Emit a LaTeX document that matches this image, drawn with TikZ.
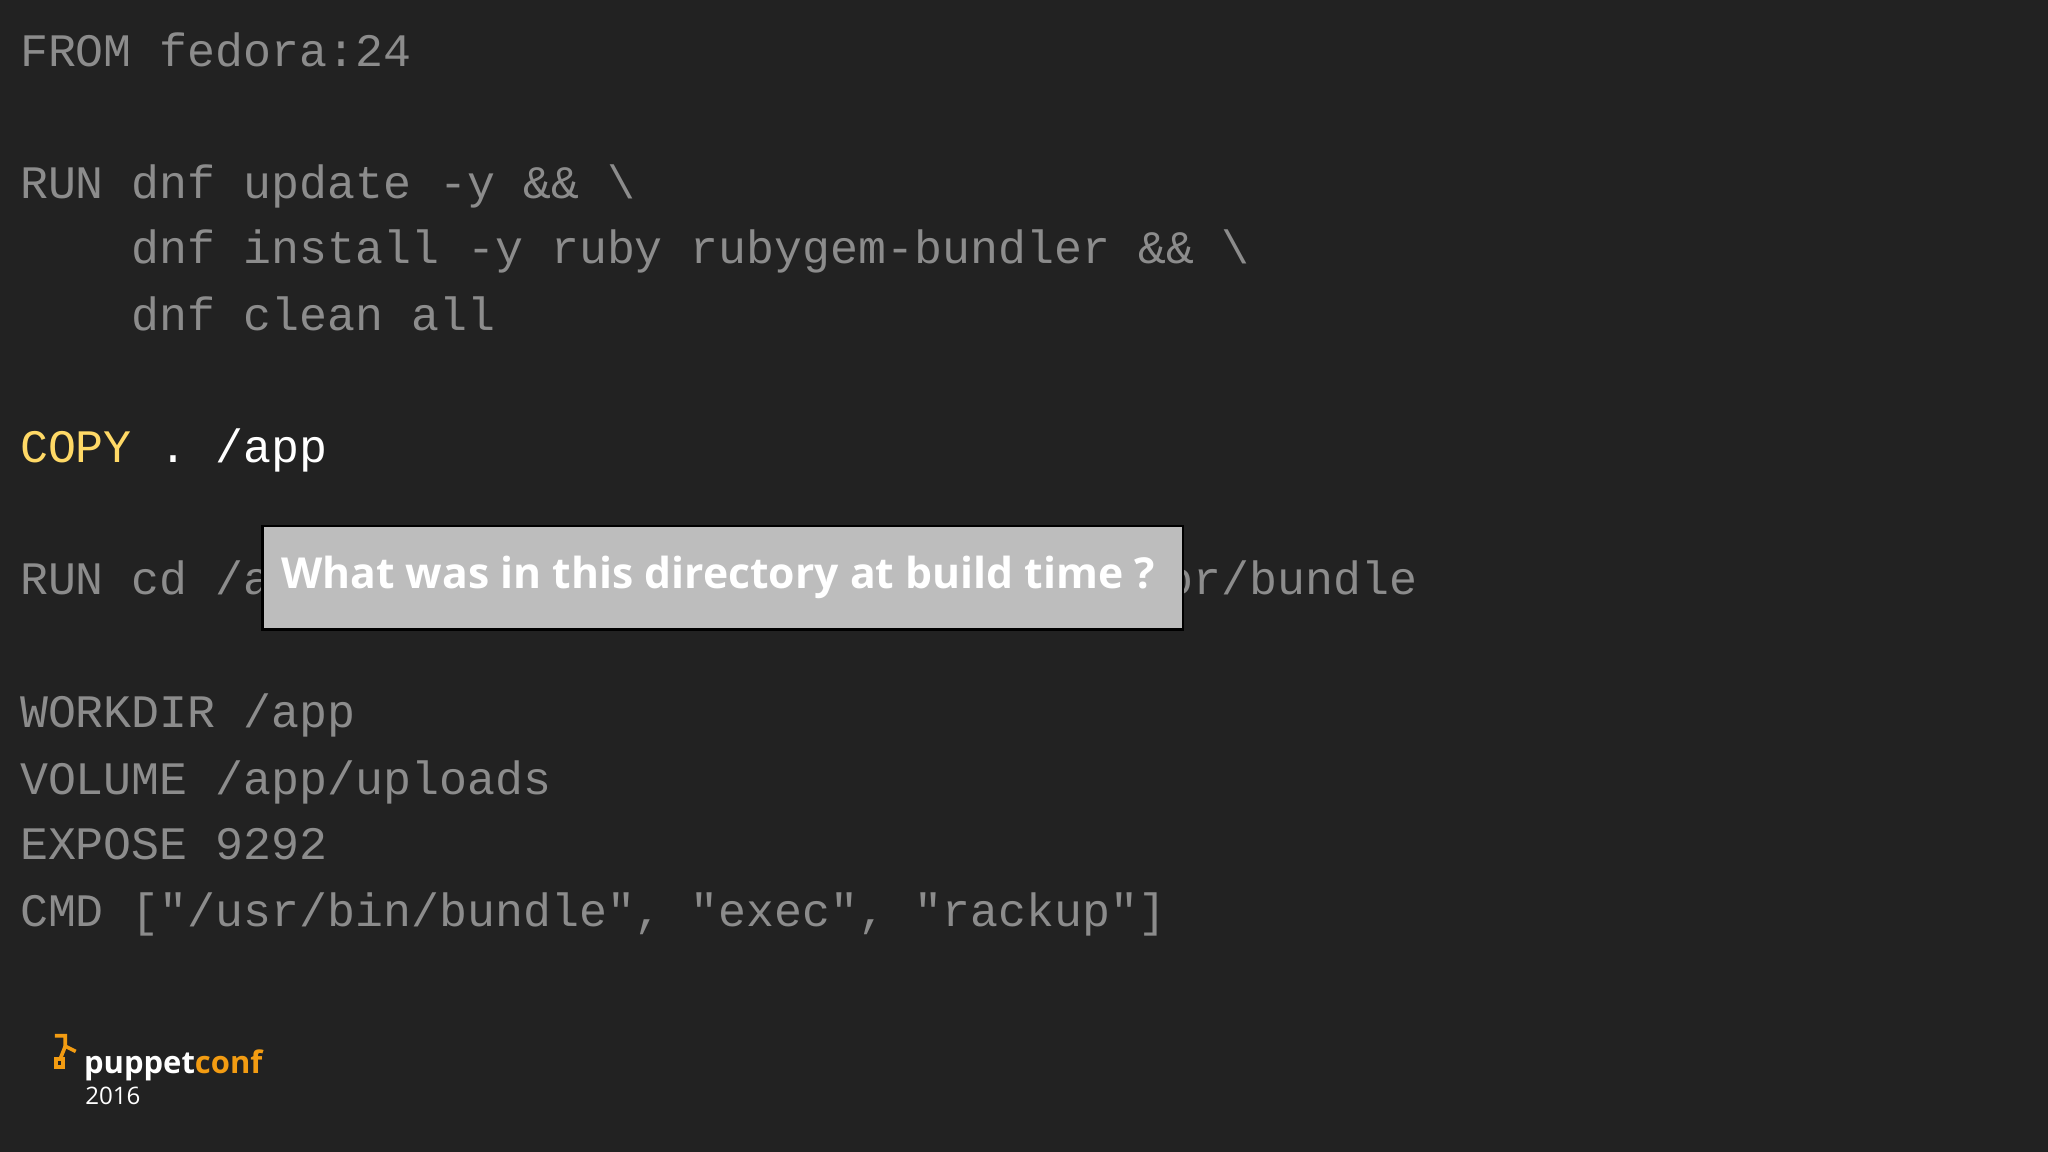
\documentclass[tikz,border=0pt]{standalone}
\usepackage{fontspec}
\setmonofont{Liberation Mono}
\newfontfamily\osans{Open Sans}
\definecolor{bg}{HTML}{222222}
\definecolor{code}{HTML}{8C8C8C}
\definecolor{yel}{HTML}{FFD966}
\definecolor{boxg}{HTML}{BDBDBD}
\definecolor{orng}{HTML}{F39C12}
\begin{document}
\begin{tikzpicture}[x=0.02cm,y=-0.02cm,
  cl/.style={anchor=base west,inner sep=0,text=code,font=\ttfamily\fontsize{20.3}{22}\selectfont}]
\fill[bg] (0,0) rectangle (1568,882);
\node[cl] (l1) at (15,51) {FROM fedora:24};
\node[cl] (l2) at (15,152) {RUN dnf update -y \&\& \textbackslash};
\node[cl] (l3) at (15,202) {\ \ \ \ dnf install -y ruby rubygem-bundler \&\& \textbackslash};
\node[cl] (l4) at (15,253) {\ \ \ \ dnf clean all};
\node[cl] (l5) at (15,354) {\textcolor{yel}{COPY}~\textcolor{white}{. /app}};
\node[cl] (l6a) at (15,455) {RUN cd /a};
\node[cl] (l6b) at (892,455) {or/bundle};
\node[cl] (l7) at (15,557) {WORKDIR /app};
\node[cl] (l8) at (15,608) {VOLUME /app/uploads};
\node[cl] (l9) at (15,658) {EXPOSE 9292};
\node[cl] (l10) at (15,709) {CMD ["/usr/bin/bundle", "exec", "rackup"]};
\node[draw=black,line width=1pt,fill=boxg,minimum width=705*0.02cm,minimum height=79*0.02cm,anchor=north west,inner sep=0] (box) at (200,402) {};
\node[anchor=west,text=white,font=\osans\bfseries\fontsize{18.6}{21}\selectfont,inner sep=0] (q) at (215,442) {What was in this directory at build time ?};
% logo
\draw[orng,line width=1.6pt] (42,793) -- (50,793) -- (50,801) -- (58,805);
\draw[orng,line width=1.6pt] (50,801) -- (46,811);
\draw[orng,line width=1.6pt] (43,811) rectangle (48,817);
\node[anchor=base west,inner sep=0,font=\osans\bfseries\fontsize{13.5}{15}\selectfont] (pc) at (64,822) {\textcolor{white}{puppet}\textcolor{orng}{conf}};
\node[anchor=base west,inner sep=0,text=white,font=\osans\fontsize{10.5}{12}\selectfont] (yr) at (65,846) {2016};
\end{tikzpicture}
\end{document}
